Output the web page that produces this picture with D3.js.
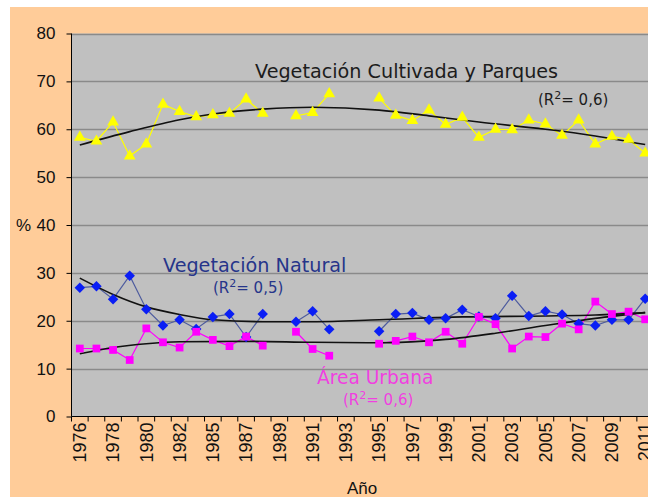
<!DOCTYPE html>
<html lang="es">
<head>
<meta charset="utf-8">
<script src="https://d3js.org/d3.v7.min.js"></script>
<style>
body { margin: 0; background: #fff; }
svg text { font-family: "Liberation Sans", Arial, sans-serif; }
.lbl { font-family: "DejaVu Sans", Verdana, sans-serif !important; }
</style>
</head>
<body>
<script>
// categories (1984 is not in the series)
var years = [1976,1977,1978,1979,1980,1981,1982,1983,1985,1986,1987,1988,1989,1990,1991,1992,1993,1994,
             1995,1996,1997,1998,1999,2000,2001,2002,2003,2004,2005,2006,2007,2008,2009,2010,2011];

// % of surface, null = no data
var cultivada = [58.3,57.5,61.5,54.4,56.9,65.2,63.7,62.6,63.0,63.3,66.3,63.3,null,62.8,63.5,67.4,null,null,
                 66.5,62.9,61.8,64.0,61.0,62.5,58.3,60.0,59.9,61.9,61.1,58.7,61.9,56.9,58.5,57.9,55.0];
var natural   = [26.9,27.2,24.5,29.4,22.4,19.0,20.2,18.3,20.8,21.4,16.6,21.4,null,19.8,22.0,18.2,null,null,
                 17.8,21.4,21.6,20.2,20.5,22.3,20.9,20.5,25.2,21.0,22.0,21.3,19.4,19.0,20.2,20.2,24.6];
var urbana    = [14.2,14.2,13.9,11.8,18.4,15.5,14.4,17.7,16.0,14.7,16.7,14.8,null,17.7,14.1,12.7,null,null,
                 15.2,15.8,16.7,15.5,17.7,15.2,20.8,19.3,14.2,16.7,16.6,19.4,18.2,24.0,21.4,21.9,20.3];

// trend lines [year, value]
var trendCultivada = [[1976,56.7],[1979,59.5],[1982,62.0],[1985,63.2],[1988,64.2],[1991,64.6],[1995,64.0],
                      [1998,62.8],[2001,61.5],[2005,60.0],[2008,58.6],[2011,56.8]];
var trendNatural   = [[1976,28.9],[1978,25.5],[1980,22.9],[1982,21.3],[1985,20.2],[1988,19.8],[1991,19.8],
                      [1995,20.2],[2000,20.8],[2005,21.0],[2008,21.2],[2011,21.7]];
var trendUrbana    = [[1976,13.1],[1978,14.4],[1980,15.2],[1982,15.6],[1987,15.7],[1991,15.5],[1995,15.4],
                      [1999,16.1],[2002,17.4],[2005,19.0],[2008,20.5],[2011,21.7]];

var yTicks = [0,10,20,30,40,50,60,70,80];

var width = 648, height = 497;
var pLeft = 71.5, pRight = 653.5, pTop = 33.5, pBottom = 416.5;

var svg = d3.select("body").append("svg")
    .attr("width", width)
    .attr("height", height);

// peach background
svg.append("rect")
   .attr("x", 10).attr("y", 7)
   .attr("width", width - 10).attr("height", height - 7)
   .style("fill", "#FFCC99");

var x = d3.scaleBand().domain(years).range([pLeft, pRight]).padding(0);
var y = d3.scaleLinear().domain([0, 80]).range([pBottom, pTop]);
function cx(yr) { return x(yr) + x.bandwidth() / 2; }

// plot area
svg.append("rect")
   .attr("x", pLeft).attr("y", pTop)
   .attr("width", pRight - pLeft).attr("height", pBottom - pTop)
   .style("fill", "#C0C0C0");

// grid
svg.selectAll("line.grid")
   .data(yTicks.slice(1))
   .enter().append("line")
   .attr("class", "grid")
   .attr("x1", pLeft).attr("x2", pRight)
   .attr("y1", function(d) { return Math.round(y(d)) + 0.5; })
   .attr("y2", function(d) { return Math.round(y(d)) + 0.5; })
   .style("stroke", "#8a8a8a")
   .style("stroke-width", 1.5);

// y axis
var yAxis = svg.append("g")
   .attr("transform", "translate(" + pLeft + ",0)")
   .call(d3.axisLeft(y).tickValues(yTicks).tickSize(5).tickPadding(11));
yAxis.select(".domain").attr("d", "M0," + pTop + "V" + pBottom).style("stroke", "#000");
yAxis.selectAll("text").style("font-size", "17px").style("fill", "#111");

svg.append("text")
   .attr("x", 16).attr("y", y(40))
   .attr("dy", "0.35em")
   .style("font-size", "17px").style("fill", "#111")
   .text("%");

// x axis: ticks between categories, labels every second category
var xg = svg.append("g").attr("transform", "translate(0," + pBottom + ")");
xg.append("line").attr("x1", pLeft).attr("x2", pRight).style("stroke", "#000");
xg.selectAll("line.tk")
  .data(years.concat(["end"]))
  .enter().append("line")
  .attr("class", "tk")
  .attr("x1", function(d, i) { return pLeft + i * x.bandwidth(); })
  .attr("x2", function(d, i) { return pLeft + i * x.bandwidth(); })
  .attr("y1", 0).attr("y2", 5)
  .style("stroke", "#000");
xg.selectAll("text")
  .data(years.filter(function(d, i) { return i % 2 === 0; }))
  .enter().append("text")
  .attr("transform", function(d) { return "translate(" + cx(d) + ",6) rotate(-90)"; })
  .attr("text-anchor", "end")
  .attr("dy", "0.35em")
  .style("font-size", "18px").style("fill", "#111")
  .text(function(d) { return d; });

svg.append("text")
   .attr("x", 362).attr("y", 494)
   .attr("text-anchor", "middle")
   .style("font-size", "17px").style("fill", "#111")
   .text("Año");

var plot = svg.append("g");

var trendLine = d3.line()
    .x(function(d) { return cx(d[0]); })
    .y(function(d) { return y(d[1]); })
    .curve(d3.curveMonotoneX);

var dataLine = d3.line()
    .defined(function(d) { return d != null; })
    .x(function(d, i) { return cx(years[i]); })
    .y(function(d) { return y(d); });

var series = [
  { values: cultivada, line: "#FFFF00", fill: "#FFFF00", symbol: d3.symbolTriangle, size: 60 },
  { values: natural,   line: "#4E5C9E", fill: "#0A1EF5", symbol: d3.symbolDiamond2, size: 70 },
  { values: urbana,    line: "#FF00FF", fill: "#FF00FF", symbol: d3.symbolSquare,   size: 60 }
];

series.forEach(function(s) {
  plot.append("path")
      .attr("d", dataLine(s.values))
      .style("fill", "none")
      .style("stroke", s.line)
      .style("stroke-width", 1.2);
});

[trendCultivada, trendNatural, trendUrbana].forEach(function(t) {
  plot.append("path")
      .attr("d", trendLine(t))
      .style("fill", "none")
      .style("stroke", "#111")
      .style("stroke-width", 1.6);
});

series.forEach(function(s) {
  plot.selectAll(null)
      .data(s.values.map(function(v, i) { return [years[i], v]; }).filter(function(d) { return d[1] != null; }))
      .enter().append("path")
      .attr("d", d3.symbol().type(s.symbol).size(s.size))
      .attr("transform", function(d) { return "translate(" + cx(d[0]) + "," + y(d[1]) + ")"; })
      .style("fill", s.fill);
});

// series labels
function label(txt, xx, yy, size, color) {
  return svg.append("text").attr("class", "lbl")
     .attr("x", xx).attr("y", yy)
     .style("font-size", size + "px").style("fill", color)
     .text(txt);
}
function r2(xx, yy, val, color) {
  var t = svg.append("text").attr("class", "lbl")
     .attr("x", xx).attr("y", yy)
     .style("font-size", "15px").style("fill", color);
  t.append("tspan").text("(R");
  t.append("tspan").attr("dy", -6).style("font-size", "11px").text("2");
  t.append("tspan").attr("dy", 6).text("= " + val + ")");
}

label("Vegetación Cultivada y Parques", 255, 78, 19.2, "#1c1c1c");
r2(538, 105, "0,6", "#1c1c1c");
label("Vegetación Natural", 163, 272, 19.2, "#26358a");
r2(213, 293, "0,5", "#26358a");
label("Área Urbana", 317, 384, 18.6, "#f040e0");
r2(343, 405, "0,6", "#f040e0");
</script>
</body>
</html>
